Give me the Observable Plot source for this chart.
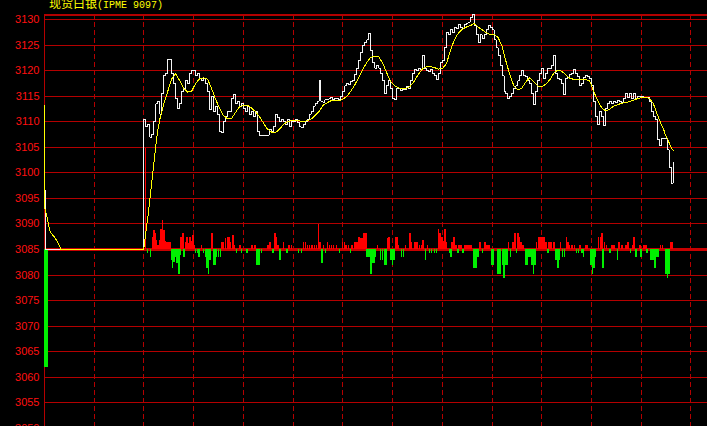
<!DOCTYPE html>
<html><head><meta charset="utf-8">
<script src="https://cdn.jsdelivr.net/npm/d3@7"></script>
<script src="https://cdn.jsdelivr.net/npm/@observablehq/plot@0.6"></script>
<style>
html,body{margin:0;padding:0;background:#000;overflow:hidden;}
#wrap{position:relative;width:707px;height:426px;background:#000;}
#title{position:absolute;left:49px;top:-3px;color:#ffff00;font-size:12px;line-height:12px;white-space:pre;font-family:"Noto Sans CJK SC";z-index:2}
#title .lat{font-family:"Liberation Mono";font-size:10px;}
#wrap svg{display:block;shape-rendering:crispEdges;}
</style></head><body>
<div id="wrap"><div id="title">现货白银<span class="lat">(IPME 9097)</span></div></div>
<script>
// y tick labels (price levels)
const yTicks = [3050,3055,3060,3065,3070,3075,3080,3085,3090,3095,3100,3105,3110,3115,3120,3125,3130];
// vertical grid times (minutes)
const xGrid = [50,100,150,200,250,300,350,400,450,500,550,600,650];
const baseLevel = 3085;

// price (white) : early part as [t, v], then every 2 minutes from t=100
const priceEarly = [[0,3096.5],[0.6,3085],[99.4,3085]];
const priceStart = 100, priceStep = 2;
const price = [
 3110.5,3109,3109.5,3107,3107.5,3110,3113.5,3114,3111.5,3115.5,3119,3119.5,3122.2,3122.2,3119.5,3117.5,3114.5,3112.5,3113.5,3116,3116.5,3118,3117.5,3119.5,3120,
 3120,3119,3119.5,3118.5,3118,3118.5,3117.5,3116,3112.3,3115,3112,3113,3111.5,3108,3107.8,3110,3111,3112,3112,3114.5,3115.3,3113.5,3114,3113,3113.5,
 3112.5,3112,3113,3111.5,3112,3111,3112,3108,3107.4,3107.4,3107.4,3107.4,3107.4,3108.5,3108,3109,3111.5,3110.8,3110,3110.5,3110,3109.5,3110.5,3109,3110,
 3110,3110.5,3109.8,3109,3108.8,3109.5,3110,3110.5,3111.5,3112,3113,3113.5,3114,3118,3114,3113.8,3114.3,3114.3,3114.5,3114.8,3114.3,3114.5,3114.5,3114.3,3115,
 3116,3117,3117.5,3117.2,3117.8,3118,3119.3,3120.5,3122,3123.5,3125,3125.5,3126,3127.2,3124,3121.5,3120.5,3121,3120.5,3119.5,3118,3115.5,3117,3118,3116.5,
 3114.5,3114.3,3116.5,3116.5,3116.2,3116.4,3116.4,3116.8,3116.5,3118,3119.5,3120.2,3120,3120.5,3120.3,3123,3120.5,3120,3119.8,3120.3,3119.5,3119,3118.3,3119.5,3121.5,
 3122,3124.5,3127.5,3127,3128,3127.5,3128.5,3128.3,3129,3128.5,3128.3,3129,3129.3,3129.5,3130.3,3131,3128.8,3127,3125.5,3127,3126.3,3127,3128,3128.8,3128.5,
 3128,3126,3124.5,3123,3121,3119,3116,3115.5,3114.5,3115,3115.5,3116.5,3117,3118,3119,3120,3119,3118.8,3118,3117.5,3115.5,3113.3,3116,3118,3119.5,
 3120.5,3118.5,3119.5,3120.5,3120.5,3121,3123,3119.5,3118.5,3118.3,3117.5,3115.3,3118.5,3118.7,3119.3,3119.5,3120.3,3119.5,3118.8,3117,3117.5,3118.7,3119,3118.8,3118.5,
 3117,3114,3111,3109.5,3112,3111,3109.3,3112.5,3113.5,3114,3113.5,3114,3113.8,3114.2,3114,3113.8,3114.5,3115.5,3114.8,3115.5,3114.5,3115.5,3114.5,3115,3115,
 3115,3114.8,3114.8,3114.7,3114,3112,3111,3110.5,3106.5,3105.3,3106.8,3106.8,3106.8,3104.5,3101,3098,3102
];

// moving average (yellow) as [t, v]
const maEarly = [[0,3113.2],[0.5,3093],[2.5,3091.3],[4,3090],[5.5,3088.6],[7.5,3088],[10.5,3087.3],[13,3086.5],[15.5,3085.6],[16.5,3085],[99.5,3085]];
const ma = [
 [100,3085.5],[102,3088.5],[104,3091.5],[106,3095],[108,3098.5],[110,3102],[112,3105.5],[114,3108.5],[116,3110.5],[118,3112],[120,3113.5],[124,3116],[128,3118.4],[132,3119.4],[136,3118],[140,3116.5],[144,3115.8],[148,3116],[152,3117.5],[156,3118.4],[160,3118.6],[164,3118.3],[168,3116.5],[172,3114.4],[176,3112.6],[180,3111.2],[184,3110.6],[188,3110.6],[192,3111.8],[196,3112.9],
 [200,3113.2],[204,3113.2],[208,3112.7],[212,3112],[216,3111],[220,3109.8],[224,3108.6],[228,3108],[232,3107.8],[236,3108.5],[240,3109.4],[244,3110],[248,3110.2],[252,3110.3],[256,3110.2],[260,3110],[264,3110.2],[268,3110.5],[272,3111.2],[276,3112],[280,3113.2],[284,3113.7],[288,3114.1],[292,3114.2],[296,3114.1],
 [300,3114.4],[304,3115],[308,3116],[312,3117.2],[316,3118.7],[320,3120.2],[324,3121.6],[328,3122.6],[332,3122.8],[336,3122.7],[340,3121.5],[344,3119.6],[348,3117.9],[352,3117],[356,3116.6],[360,3116.4],[364,3116.5],[368,3117],[372,3118],[376,3119.3],[380,3120.3],[384,3120.8],[388,3120.8],[392,3120.6],[396,3120.3],
 [400,3120.4],[404,3121.3],[408,3123.8],[412,3126],[416,3127.3],[420,3128.1],[424,3128.5],[428,3128.8],[432,3129.2],[436,3128.5],[440,3128],[444,3127.4],[448,3127.1],[452,3127.1],[456,3126.5],[460,3124.8],[464,3121.8],[468,3119.1],[472,3117],[476,3116.2],[480,3116.6],[484,3117.8],[488,3118.6],[492,3117.8],[496,3117],
 [500,3116.9],[504,3117.3],[508,3118.2],[512,3119.5],[516,3120.1],[520,3119.9],[524,3119.2],[528,3118.5],[532,3118.3],[536,3118.2],[540,3118.2],[544,3118.2],[548,3118.1],[552,3116],[556,3114.2],[560,3112.8],[564,3112.1],[568,3112.4],[572,3113],[576,3113.3],[580,3113.6],[584,3113.8],[588,3113.9],[592,3114.2],[596,3114.5],
 [600,3114.7],[604,3114.8],[608,3114.6],[612,3113.6],[614,3112.6],[616,3111.5],[618,3110.5],[620,3109.5],[622,3108.8],[624,3107.6],[626,3106.8],[628,3105.9],[630,3105],[632,3104.4]
];

// bars around the 3085 base line (signed)
const openBar = {t: 0, v: -23};
const barT = [100,102,104,107,109,110.5,112,113,114.5,116.5,117.7,119,120.5,122,123.5,125,126.5,128,129,130.5,132.5,134,135.5,136.5,137.5,139.5,141,142.5,144,145.5,147,148.5,150,151.5,152.5,154.5,156,158.5,160.5,162.5,164,165.5,167,169,170.5,172,173.5,175.5,177.5,179,180.5,182.5,184.5,186,187.5,190,191.5,193.5,197,198.5,204,209,212,214,216,218.5,225,227,230,232,233.5,235.5,237,241,244.5,246.5,249,256,259,261,263,265,267,269.5,272,274,276,277.5,279.5,281,283,285,287,289,291,294,297,300,302,303.5,306,308,309.5,312.5,314.5,316.5,319,320.5,322,323.5,325,326.5,328.5,330,331.5,333,335.5,338.5,340.5,342.5,344,345.5,347,349,350.5,352,353.5,355,356.5,359.5,361.5,363.5,368,369.5,373,375,377.5,379.5,381,383.5,385.5,387.5,389.5,392.5,394.5,396.5,398,400,401.5,403,404.5,407.5,409,410.5,412.5,414,416,417,419.5,421,423.5,425.5,427.5,429.5,432,433.5,435,436.5,438.5,441,443.5,445.5,447.5,450.5,452,456,457.5,459,461,462.5,464,465.5,467,469,471,472.5,473.5,475,476.5,478,479.5,481.5,484,485.5,487,488.5,490.5,492,493.5,495,497,498.5,500.5,502.5,504.5,506.5,508,509.5,512.5,515,516.5,518,519.5,521.5,523.5,525.5,527,528.5,531,533.5,535.5,537.5,539,541,542.5,545,546.5,550,551.5,553,554.5,557.5,559.5,561,562,563.5,565.5,569,571,573,576.5,578,581,585,587,589.5,592,593.5,595.5,599,600,603,605,606.5,610,611.5,613,614.5,616.5,618,620,622,625.5,627,628.5,630.5,632];
const barV = [13,19.7,-0.8,-1.5,2.4,3.7,3.1,1.8,0.8,1.8,4,5.7,3.7,1.5,1.4,1.4,1.4,-2.2,-3.8,-2.5,-1.5,-2.8,-4.8,-1.2,2.3,3.1,-1.5,1.4,2.3,1.2,2.4,1.5,2.7,0.8,-0.8,-0.8,-1.5,0.8,-0.8,-1.5,-3.8,-4.8,-2.2,3.2,-3.1,-3.1,-1.5,-1.5,-1.5,1.4,1.4,2.1,2.4,2.4,1.4,2.7,0.8,-0.7,0.8,-0.7,-0.7,0.8,0.8,-3.1,-3.1,-0.7,0.8,1.4,-0.7,3.1,2.4,0.8,-2.2,1.4,-0.7,0.8,0.8,-0.7,-0.7,1.4,1.4,0.8,0.8,0.8,0.8,0.8,4.9,1.4,-2.8,0.8,-0.7,1.4,0.8,0.8,0.8,0.8,-0.7,1.4,1.4,0.8,0.8,-0.7,0.8,1.4,1.4,2.4,2.1,2.1,3.1,3.1,-1.5,-1.5,-4.8,-2.8,-2.8,-1.5,0.8,-2.2,-2.2,-3.1,-3.1,2.1,2.4,-2.2,-3.1,-2.2,2.4,2.4,0.8,-1.5,-1.5,0.8,3.1,1.4,1.4,1.4,0.8,0.8,1.8,-2.2,0.8,-0.7,-0.7,-0.7,-0.7,3.9,3.1,2.4,1.5,3.9,1.4,-0.7,-1.5,1.4,2.3,0.8,-0.7,0.8,0.8,-0.7,0.8,0.8,0.8,0.8,-3.8,-3.8,-3.8,-1.5,1.4,-0.7,1.4,0.8,0.8,-3.1,-3.1,-4.8,-4.8,-4.8,-3.1,-5.6,-3.1,-3.1,1.4,-1.5,1.4,1.4,3.1,-0.7,3.1,2.4,1.4,0.8,-3.1,-3.1,-1.5,-1.5,-3.1,-4.8,-3.1,1.4,2.3,2.3,2.3,2.3,1.4,-0.7,1.4,1.4,1.4,-2.2,-3.8,-2.2,1.4,-1.5,-1.5,2.3,1.4,0.8,0.8,0.8,-0.7,-0.7,0.8,-0.7,-1.5,0.8,0.8,-3.1,-4.8,-3.8,-1.5,2.3,2.3,3.1,-3.8,1.4,0.8,-0.7,0.8,0.8,-2.2,1.4,0.8,0.8,1.4,-0.7,0.8,2.3,-1.5,0.8,-1.5,0.8,0.8,-0.7,-2.2,-2.2,-2.2,-3.8,-1.5,-1.5,0.8,0.8,-4.8,-5.6,-4.8,1.4,1.4];

const GRID = "#b40000", BASE = "#c80000", RED = "#ff0000", GREEN = "#00f000", LABEL = "#ff1010";

const pricePts = priceEarly.map(([t, v]) => ({t, v}))
  .concat(price.map((v, i) => ({t: priceStart + i * priceStep, v})));
const maPts = maEarly.concat(ma).map(([t, v]) => ({t, v}));
const bars = barT.map((t, i) => ({t, v: barV[i]}));

const chart = Plot.plot({
  width: 707, height: 426,
  marginLeft: 44, marginTop: 14, marginRight: 0, marginBottom: 0,
  style: {background: "#000", fontFamily: "Liberation Sans", fontSize: "11px"},
  x: {domain: [0, 666.6], range: [44, 707], axis: null},
  y: {domain: [3050, 3130], range: [427.9, 19], axis: null},
  marks: [
    Plot.ruleY(yTicks, {stroke: GRID}),
    Plot.ruleX(xGrid, {stroke: GRID, strokeDasharray: "5,3"}),
    Plot.frame({anchor: "top", stroke: GRID, strokeWidth: 2}),
    Plot.frame({anchor: "left", stroke: GRID}),
    Plot.ruleY([baseLevel], {stroke: BASE, strokeWidth: 3}),
    Plot.rect(bars.filter(d => d.v > 0), {x1: d => d.t - 0.8, x2: d => d.t + 0.8, y1: () => baseLevel, y2: d => baseLevel + d.v, fill: RED}),
    Plot.rect(bars.filter(d => d.v < 0), {x1: d => d.t - 0.8, x2: d => d.t + 0.8, y1: () => baseLevel, y2: d => baseLevel + d.v, fill: GREEN}),
    Plot.rect([openBar], {x1: d => d.t, x2: d => d.t + 4, y1: () => baseLevel, y2: d => baseLevel + d.v, fill: GREEN}),
    Plot.line(pricePts, {x: "t", y: "v", stroke: "#f4f4f4", strokeWidth: 1, curve: "step-after"}),
    Plot.line(maPts, {x: "t", y: "v", stroke: "#ffff00", strokeWidth: 1}),
    Plot.text(yTicks, {y: d => d, text: d => String(d), frameAnchor: "left", textAnchor: "end", dx: -5, fill: LABEL, fontSize: 11})
  ]
});
document.getElementById("wrap").appendChild(chart);
</script>
</body></html>
